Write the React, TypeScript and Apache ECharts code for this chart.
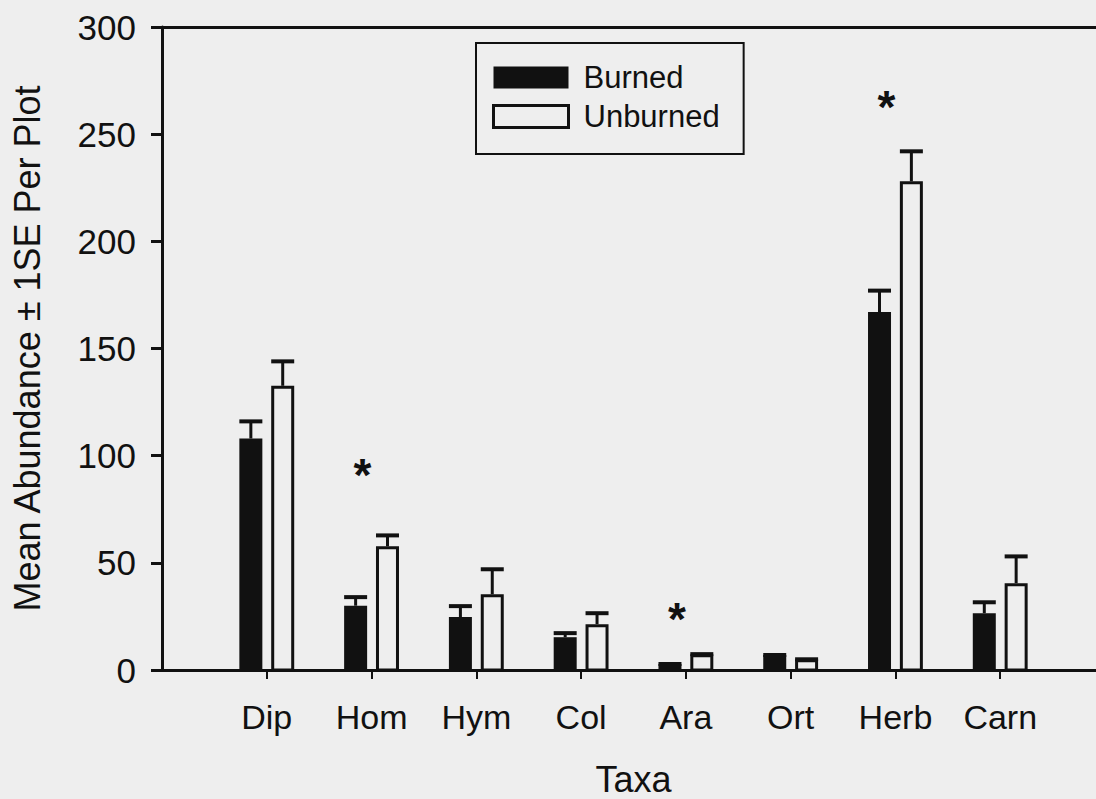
import React, { useEffect, useRef } from "react";
import * as echarts from "echarts";

const categories = ["Dip", "Hom", "Hym", "Col", "Ara", "Ort", "Herb", "Carn"];
const burnedMean = [108, 30, 24.7, 15.3, 2.8, 7, 167, 26.5];
const burnedSE = [8, 4, 5.1, 1.9, 0, 0, 10, 5.1];
const unburnedMean = [132.6, 57.7, 35.3, 21.4, 7.4, 5, 228, 40.5];
const unburnedSE = [11.4, 5.1, 11.7, 5.1, 0, 0, 14, 12.5];
const significant = ["Hom", "Ara", "Herb"];
const asteriskY = [94, 26.5, 265.5];
const yTicks = [0, 50, 100, 150, 200, 250, 300];

const BG = "#eeeeee";
const INK = "#111111";
const FONT = "'Liberation Sans', Arial, Helvetica, sans-serif";

export default function App() {
  const ref = useRef<HTMLDivElement>(null);

  useEffect(() => {
    document.body.style.margin = "0";
    document.body.style.background = BG;
    const chart = echarts.init(ref.current!, undefined, { renderer: "svg" });

    const makeBars = (side: number, filled: boolean) => (params: any, api: any) => {
      const idx = api.value(0);
      const v = api.value(1);
      const se = api.value(2);
      const base = api.coord([idx, 0]);
      const top = api.coord([idx, v]);
      const cap = api.coord([idx, v + se]);
      const band = api.coord([2, 0])[0] - api.coord([1, 0])[0];
      const cx = base[0] + side * band * 0.152;
      const w = 23;
      const children: any[] = [];
      children.push({
        type: "line",
        shape: { x1: cx, y1: top[1], x2: cx, y2: cap[1] },
        style: { stroke: INK, lineWidth: 3 },
      });
      children.push({
        type: "line",
        shape: { x1: cx - w / 2, y1: cap[1], x2: cx + w / 2, y2: cap[1] },
        style: { stroke: INK, lineWidth: 4 },
      });
      if (filled) {
        children.push({
          type: "rect",
          shape: { x: cx - w / 2, y: top[1], width: w, height: base[1] - top[1] },
          style: { fill: INK },
        });
      } else {
        children.push({
          type: "rect",
          shape: { x: cx - w / 2 + 1.5, y: top[1] + 1.5, width: w - 3, height: base[1] - top[1] - 1.5 },
          style: { fill: BG, stroke: INK, lineWidth: 3 },
        });
      }
      return { type: "group", children };
    };

    const catLabel = (v: number) => categories[v - 1] || "";
    const catPositions = categories.map((c, i) => i + 1);

    chart.setOption({
      animation: false,
      backgroundColor: BG,
      grid: { left: 162, top: 27, width: 943, height: 643, outerBoundsMode: "none", containLabel: false },
      legend: {
        orient: "vertical",
        left: 476,
        top: 43,
        padding: [19, 24, 22, 16],
        borderColor: INK,
        borderWidth: 2,
        itemWidth: 75,
        itemHeight: 22,
        itemGap: 8,
        icon: "rect",
        textStyle: { fontFamily: FONT, fontSize: 31, color: INK, padding: [0, 0, 0, 10] },
        data: [
          { name: "Burned", itemStyle: { color: INK } },
          { name: "Unburned", itemStyle: { color: BG, borderColor: INK, borderWidth: 3 } },
        ],
      },
      xAxis: [
        {
          type: "value",
          min: 0,
          max: categories.length + 1,
          interval: 1,
          splitLine: { show: false },
          axisLine: { lineStyle: { color: INK, width: 3 } },
          axisTick: {
            show: true,
            length: 9,
            customValues: catPositions,
            lineStyle: { color: INK, width: 2 },
          },
          axisLabel: {
            fontFamily: FONT,
            fontSize: 34,
            color: INK,
            margin: 30,
            customValues: catPositions,
            formatter: catLabel,
          },
          name: "Taxa",
          nameLocation: "middle",
          nameGap: 91,
          nameTextStyle: { fontFamily: FONT, fontSize: 36, lineHeight: 36, color: INK },
        },
        {
          type: "value",
          min: 0,
          max: categories.length + 1,
          position: "top",
          splitLine: { show: false },
          axisLine: { show: true, lineStyle: { color: INK, width: 3 } },
          axisTick: { show: false },
          axisLabel: { show: false },
        },
      ],
      yAxis: {
        type: "value",
        min: yTicks[0],
        max: yTicks[yTicks.length - 1],
        interval: yTicks[1] - yTicks[0],
        axisLine: { show: true, lineStyle: { color: INK, width: 3 } },
        axisTick: { show: true, length: 11, lineStyle: { color: INK, width: 3 } },
        splitLine: { show: false },
        axisLabel: { fontFamily: FONT, fontSize: 35, color: INK, margin: 26 },
        name: "Mean Abundance \u00B1 1SE Per Plot",
        nameLocation: "middle",
        nameGap: 117,
        nameTextStyle: { fontFamily: FONT, fontSize: 36, color: INK },
      },
      series: [
        {
          name: "Burned",
          type: "custom",
          renderItem: makeBars(-1, true),
          data: categories.map((c, i) => [i + 1, burnedMean[i], burnedSE[i]]),
          itemStyle: { color: INK },
          z: 3,
        },
        {
          name: "Unburned",
          type: "custom",
          renderItem: makeBars(1, false),
          data: categories.map((c, i) => [i + 1, unburnedMean[i], unburnedSE[i]]),
          itemStyle: { color: BG, borderColor: INK, borderWidth: 3 },
          z: 3,
        },
        {
          name: "sig",
          type: "scatter",
          symbol: "rect",
          symbolSize: 1,
          itemStyle: { color: "rgba(0,0,0,0)" },
          data: significant.map((c, i) => [categories.indexOf(c) + 1, asteriskY[i]]),
          label: {
            show: true,
            position: "inside",
            formatter: "*",
            fontFamily: FONT,
            fontSize: 46,
            fontWeight: "bold",
            color: INK,
            opacity: 1,
            textBorderWidth: 0,
            offset: [-9, 6],
          },
          z: 4,
        },
      ],
    });

    return () => chart.dispose();
  }, []);

  return <div ref={ref} style={{ width: 1096, height: 799 }} />;
}
